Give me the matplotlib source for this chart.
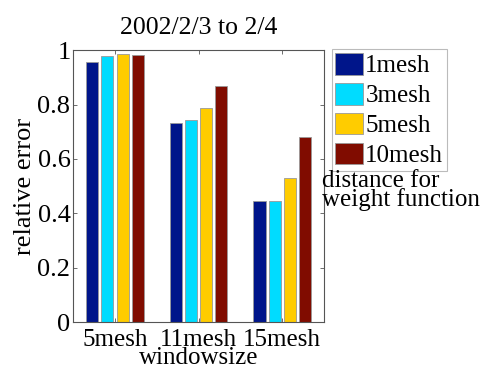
import matplotlib
matplotlib.use('Agg')
import matplotlib.pyplot as plt
import numpy as np

# ======================
# DATA
# ======================
groups = ['5mesh', '11mesh', '15mesh']
series = ['1mesh', '3mesh', '5mesh', '10mesh']
colors = ['#00158a', '#00dcff', '#ffcc00', '#800c00']

err_1mesh = [0.955, 0.731, 0.447]
err_3mesh = [0.980, 0.744, 0.444]
err_5mesh = [0.985, 0.788, 0.531]
err_10mesh = [0.984, 0.870, 0.682]
values = [err_1mesh, err_3mesh, err_5mesh, err_10mesh]

# ======================
# PLOT
# ======================
plt.rcParams['font.family'] = ['Liberation Serif', 'DejaVu Serif']
plt.rcParams['font.size'] = 19

fig = plt.figure(figsize=(4.88, 3.69), dpi=100)
ax = fig.add_axes([0.150, 0.127, 0.514, 0.737])

x = np.arange(1, len(groups) + 1)
pitch = 0.727 / len(series)
width = 0.8 * pitch
for i, (name, vals) in enumerate(zip(series, values)):
    offset = (i - (len(series) - 1) / 2.0) * pitch
    ax.bar(x + offset, vals, width=width, color=colors[i], edgecolor='#999999',
           linewidth=0.6, label=name)

ax.set_xlim(0.5, 3.5)
ax.set_ylim(0, 1)
ax.set_xticks(x)
ax.set_xticklabels(groups)
ax.set_yticks([0, 0.2, 0.4, 0.6, 0.8, 1])
ax.set_yticklabels(['0', '0.2', '0.4', '0.6', '0.8', '1'])
ax.tick_params(direction='in', top=True, right=True, length=3, width=0.6,
               color='#555555', labelsize=19)
ax.tick_params(axis='y', pad=2)
ax.tick_params(axis='x', pad=5, labelsize=18)
for s in ax.spines.values():
    s.set_color('#555555')
    s.set_linewidth(0.8)

ax.set_title('2002/2/3 to 2/4', fontsize=18.5, pad=12)
ax.set_xlabel('windowsize', fontsize=18, labelpad=-3)
ax.set_ylabel('relative error', labelpad=1)

leg = ax.legend(loc='upper left', bbox_to_anchor=(1.03, 1.003), fontsize=18,
                frameon=True, fancybox=False, handlelength=1.1, handleheight=0.95,
                handletextpad=0.1, labelspacing=0.22, borderpad=0.15,
                borderaxespad=0)
leg.get_frame().set_edgecolor('#aaaaaa')
leg.get_frame().set_linewidth(0.8)

fig.text(0.660, 0.540, 'distance for\nweight function', fontsize=18,
         ha='left', va='top', linespacing=0.82)

fig.savefig('out.png', dpi=100)
